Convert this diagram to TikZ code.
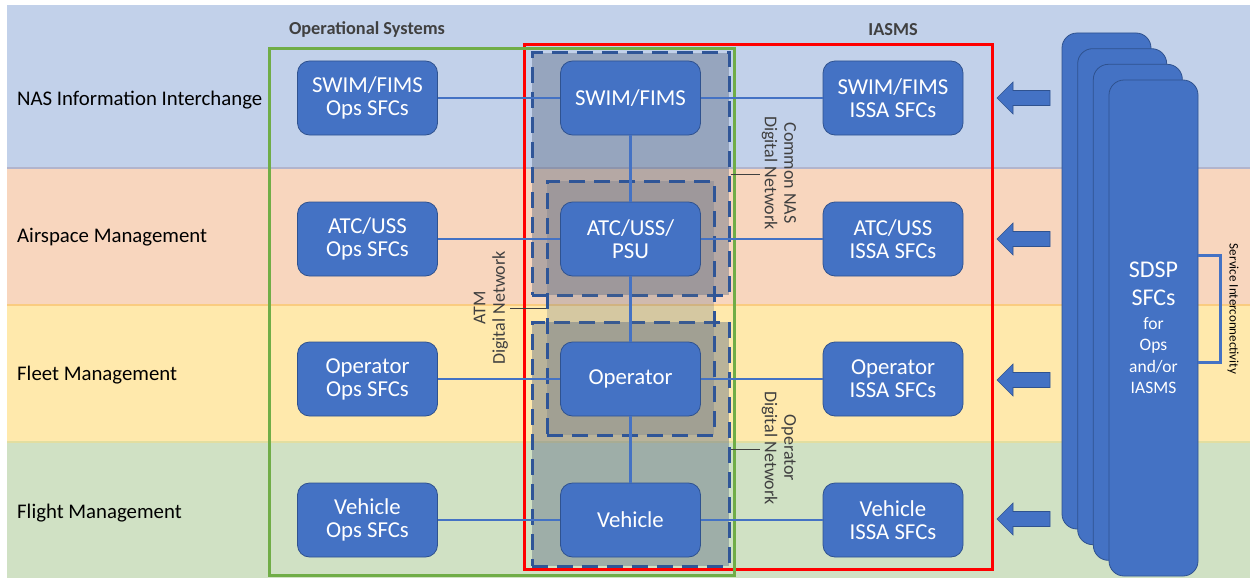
\documentclass[tikz,border=0pt]{standalone}
\usepackage{fontspec}
\setmainfont{Carlito}
\usetikzlibrary{calc}
\definecolor{bandblue}{RGB}{194,209,234}
\definecolor{bandorange}{RGB}{248,214,190}
\definecolor{bandyellow}{RGB}{255,233,172}
\definecolor{bandgreen}{RGB}{208,225,196}
\definecolor{sepblue}{RGB}{178,180,204}
\definecolor{seporange}{RGB}{250,204,128}
\definecolor{sepyellow}{RGB}{226,222,160}
\definecolor{boxfill}{HTML}{4472C4}
\definecolor{boxline}{HTML}{2F528F}
\definecolor{dashline}{HTML}{2F5597}
\definecolor{netfill}{RGB}{90,105,130}
\definecolor{opsgreen}{HTML}{70AD47}
\definecolor{txtgray}{HTML}{404040}
\newcommand{\sdspbig}{\fontsize{24}{28}\selectfont}
\begin{document}
\begin{tikzpicture}[x=1pt,y=-1pt,
  sfc/.style={draw=boxline, line width=0.8pt, fill=boxfill, rounded corners=12pt,
    minimum width=140pt, minimum height=74pt, text=white, align=center,
    font=\fontsize{22.8}{23}\selectfont, inner sep=0pt},
  link/.style={draw=boxfill, line width=2pt},
  vlink/.style={draw=boxfill, line width=3.5pt},
  netbox/.style={draw=dashline, line width=3pt, dash pattern=on 16pt off 9pt,
    fill=netfill, fill opacity=0.42, inner sep=0pt},
  netlabel/.style={align=center, text=txtgray, font=\fontsize{18}{19.5}\selectfont, inner sep=2pt},
  leader/.style={draw=txtgray, line width=0.9pt},
  rowlabel/.style={anchor=west, text=black, font=\fontsize{20.8}{22}\selectfont, inner sep=0pt},
  header/.style={text=txtgray, font=\bfseries\fontsize{18.3}{20}\selectfont, inner sep=0pt},
  sdspbox/.style={draw=boxline, line width=0.8pt, fill=boxfill, rounded corners=15pt,
    minimum width=89pt, minimum height=496pt, inner sep=0pt, text=white, align=center},
  blockarrow/.style={draw=boxline, line width=0.6pt, fill=boxfill},
  bracket/.style={draw=boxfill, line width=3pt}
]
\useasboundingbox (0,0) rectangle (1250,578);
% bands
\fill[bandblue] (7,5) rectangle (1250,168);
\fill[bandorange] (7,168) rectangle (1250,305);
\fill[bandyellow] (7,305) rectangle (1250,442);
\fill[bandgreen] (7,442) rectangle (1250,578);
\draw[sepblue, line width=1.5pt] (7,168) -- (1250,168);
\draw[seporange, line width=1.5pt] (7,305) -- (1250,305);
\draw[sepyellow, line width=1.2pt] (7,442) -- (1250,442);

% row labels
\node[rowlabel] (r1) at (17,100) {NAS Information Interchange};
\node[rowlabel] (r2) at (17,237) {Airspace Management};
\node[rowlabel] (r3) at (17,375) {Fleet Management};
\node[rowlabel] (r4) at (17,513) {Flight Management};

% headers
\node[header] (opshead) at (367,30) {Operational Systems};
\node[header] (iasmshead) at (893,30) {IASMS};

% system frames
\draw[red, line width=3pt] (524,45) rectangle (992,569);
\draw[opsgreen, line width=3pt] (269,49) rectangle (734,575);

% digital network boxes
\node[netbox, minimum width=197pt, minimum height=242pt] (nas) at (630.5,174) {};
\node[netbox, minimum width=197pt, minimum height=244pt] (opnet) at (630.5,444) {};
\node[netbox, minimum width=167pt, minimum height=254pt, fill opacity=0.25] (atm) at (630.5,308) {};

\node[netlabel, rotate=-90] (naslab) at (779,173) {Common NAS\\Digital Network};
\node[netlabel, rotate=90] (atmlab) at (491,308) {ATM\\Digital Network};
\node[netlabel, rotate=-90] (oplab) at (779,448) {Operator\\Digital Network};
\draw[leader] (nas.east) -- (nas.east -| naslab.south);
\draw[leader] (atm.west) -- (atm.west -| atmlab.south);
\draw[leader] ([yshift=-5pt]opnet.east) -- ([yshift=-5pt]opnet.east -| oplab.south);

% SFC boxes
\node[sfc] (l1) at (367.5,98) {SWIM/FIMS\\Ops SFCs};
\node[sfc] (l2) at (367.5,239) {ATC/USS\\Ops SFCs};
\node[sfc] (l3) at (367.5,379) {Operator\\Ops SFCs};
\node[sfc] (l4) at (367.5,520) {Vehicle\\Ops SFCs};
\node[sfc] (m1) at (630.5,98) {SWIM/FIMS};
\node[sfc] (m2) at (630.5,239) {ATC/USS/\\PSU};
\node[sfc] (m3) at (630.5,379) {Operator};
\node[sfc] (m4) at (630.5,520) {Vehicle};
\node[sfc] (s1) at (893,98) {SWIM/FIMS\\ISSA SFCs};
\node[sfc] (s2) at (893,239) {ATC/USS\\ISSA SFCs};
\node[sfc] (s3) at (893,379) {Operator\\ISSA SFCs};
\node[sfc] (s4) at (893,520) {Vehicle\\ISSA SFCs};

% links
\foreach \i in {1,2,3,4} {
  \draw[link] (l\i.east) -- (m\i.west);
  \draw[link] (m\i.east) -- (s\i.west);
}
\draw[vlink] (m1.south) -- (m2.north);
\draw[vlink] (m2.south) -- (m3.north);
\draw[vlink] (m3.south) -- (m4.north);

% block arrows
\foreach \c in {98,239,380,519} {
  \draw[blockarrow] (1050,\c-7.5) -- (1013,\c-7.5) -- (1013,\c-16) -- (997,\c)
    -- (1013,\c+16) -- (1013,\c+7.5) -- (1050,\c+7.5) -- cycle;
}

% SDSP stack
\node[sdspbox] (b0) at (1106.5,281) {};
\node[sdspbox] (b1) at (1122.17,296.67) {};
\node[sdspbox] (b2) at (1137.83,312.33) {};
\node[sdspbox, font=\fontsize{17.5}{21.5}\selectfont] (sdsp) at (1153.5,328) {\sdspbig SDSP\\[7pt]\sdspbig SFCs\\[2pt]for\\Ops\\and/or\\IASMS};
\draw[bracket] ([yshift=73pt]sdsp.east) -- ++(22,0) |- ([yshift=-34pt]sdsp.east);
\node[rotate=-90, text=black, font=\fontsize{13}{15}\selectfont, inner sep=0pt] (svc) at (1233,309) {Service Interconnectivity};
\end{tikzpicture}
\end{document}
